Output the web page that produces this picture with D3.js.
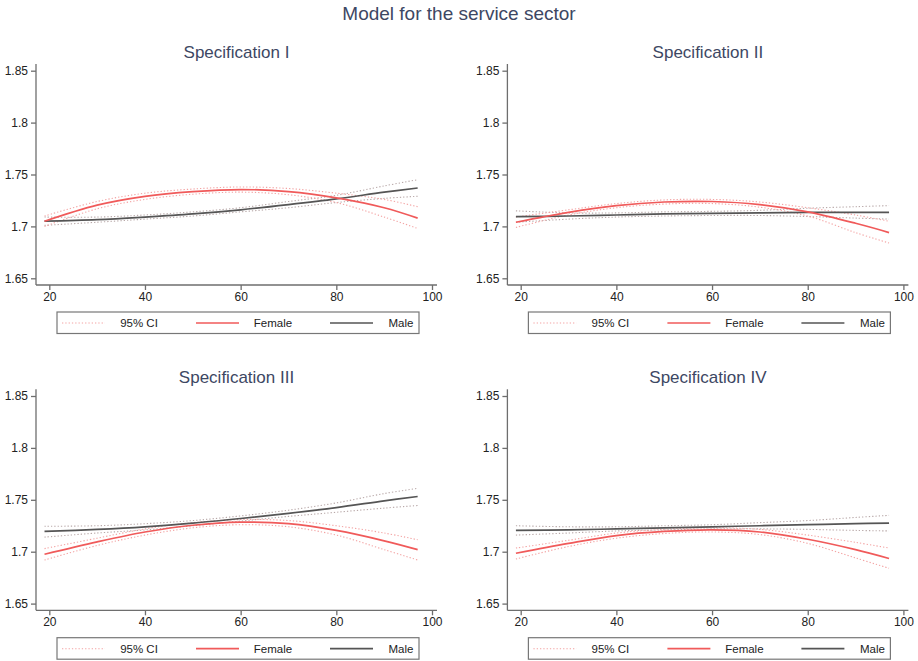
<!DOCTYPE html>
<html>
<head>
<meta charset="utf-8">
<script src="https://cdn.jsdelivr.net/npm/d3@7"></script>
<style>
  body { margin: 0; background: #fff; }
  svg { display: block; font-family: "Liberation Sans", Arial, sans-serif; }
</style>
</head>
<body>
<svg id="chart" width="918" height="661"></svg>
<script>
// Predicted height by age, service sector, four model specifications
const ages = [19, 30, 40, 50, 60, 70, 80, 90, 97];
const panelTitles = ["Specification I", "Specification II", "Specification III", "Specification IV"];
const xTicks = [20, 40, 60, 80, 100];
const yTicks = [1.65, 1.7, 1.75, 1.8, 1.85];
const yTickLabels = ["1.65", "1.7", "1.75", "1.8", "1.85"];
const legendLabels = ["95% CI", "Female", "Male"];

const female = [
  [1.705, 1.7205, 1.729, 1.7335, 1.7355, 1.7335, 1.7275, 1.718, 1.708],
  [1.704, 1.7135, 1.720, 1.7235, 1.724, 1.721, 1.714, 1.703, 1.694],
  [1.6975, 1.7095, 1.719, 1.7255, 1.7285, 1.727, 1.7205, 1.7105, 1.702],
  [1.6985, 1.708, 1.7155, 1.7195, 1.721, 1.719, 1.712, 1.702, 1.6935]
];
const femaleLo = [
  [1.700, 1.717, 1.726, 1.731, 1.733, 1.7305, 1.723, 1.709, 1.698],
  [1.699, 1.711, 1.718, 1.7215, 1.722, 1.7185, 1.710, 1.694, 1.684],
  [1.692, 1.706, 1.716, 1.723, 1.726, 1.724, 1.716, 1.702, 1.692],
  [1.693, 1.705, 1.713, 1.7175, 1.719, 1.7165, 1.708, 1.694, 1.684]
];
const femaleHi = [
  [1.710, 1.724, 1.732, 1.736, 1.738, 1.7365, 1.732, 1.726, 1.719],
  [1.709, 1.716, 1.722, 1.7255, 1.726, 1.7235, 1.718, 1.711, 1.705],
  [1.703, 1.713, 1.722, 1.728, 1.731, 1.730, 1.725, 1.718, 1.7115],
  [1.7035, 1.711, 1.718, 1.7215, 1.723, 1.7215, 1.716, 1.709, 1.7035]
];
const male = [
  [1.705, 1.7065, 1.709, 1.712, 1.716, 1.721, 1.7265, 1.733, 1.737],
  [1.7095, 1.710, 1.711, 1.712, 1.7125, 1.713, 1.7135, 1.7135, 1.7135],
  [1.7195, 1.7215, 1.724, 1.7275, 1.732, 1.737, 1.7425, 1.749, 1.7532],
  [1.7205, 1.721, 1.722, 1.723, 1.724, 1.725, 1.726, 1.727, 1.7275]
];
const maleLo = [
  [1.701, 1.704, 1.707, 1.710, 1.714, 1.718, 1.723, 1.727, 1.729],
  [1.704, 1.707, 1.709, 1.710, 1.7105, 1.7105, 1.7095, 1.708, 1.707],
  [1.714, 1.718, 1.721, 1.725, 1.7295, 1.734, 1.738, 1.742, 1.7445],
  [1.716, 1.718, 1.720, 1.721, 1.722, 1.722, 1.7215, 1.7205, 1.720]
];
const maleHi = [
  [1.709, 1.709, 1.711, 1.714, 1.718, 1.724, 1.730, 1.739, 1.745],
  [1.715, 1.713, 1.713, 1.714, 1.7145, 1.7155, 1.7175, 1.719, 1.720],
  [1.7245, 1.725, 1.727, 1.730, 1.7345, 1.740, 1.747, 1.756, 1.761],
  [1.725, 1.724, 1.724, 1.725, 1.726, 1.728, 1.730, 1.733, 1.735]
];

const colors = {
  female: "#f05a5a",
  male: "#555555",
  femaleCI: "#f3a3a3",
  maleCI: "#b9a9a9",
  axis: "#6e6e6e",
  text: "#222",
  title: "#3d4763"
};

const svg = d3.select("#chart");

svg.append("text")
  .attr("x", 459).attr("y", 20)
  .attr("text-anchor", "middle")
  .attr("font-size", 19)
  .attr("fill", colors.title)
  .text("Model for the service sector");

const offsetsX = [0, 471.4];
const offsetsY = [0, 325.3];

panelTitles.forEach((title, i) => {
  const ox = offsetsX[i % 2];
  const oy = offsetsY[Math.floor(i / 2)];
  const g = svg.append("g").attr("transform", `translate(${ox},${oy})`);

  const left = 36, right = 437, top = 64, bottom = 285;
  const x = d3.scaleLinear().domain([20, 100]).range([49.3, 432]);
  const y = d3.scaleLinear().domain([1.65, 1.85]).range([278.3, 70.7]);

  g.append("text")
    .attr("x", (left + right) / 2).attr("y", 58)
    .attr("text-anchor", "middle")
    .attr("font-size", 17)
    .attr("fill", colors.title)
    .text(title);

  // y axis
  const yAxis = g.append("g").attr("transform", `translate(${left},0)`)
    .call(d3.axisLeft(y).tickValues(yTicks).tickSize(5).tickPadding(3)
      .tickFormat((d, k) => yTickLabels[k]));
  yAxis.select(".domain").attr("d", `M0,${top}V${bottom}`);
  // x axis
  const xAxis = g.append("g").attr("transform", `translate(0,${bottom})`)
    .call(d3.axisBottom(x).tickValues(xTicks).tickSize(5).tickPadding(2));
  xAxis.select(".domain").attr("d", `M${left},0H${right}`);
  [yAxis, xAxis].forEach(a => {
    a.selectAll(".domain, line").attr("stroke", colors.axis).attr("stroke-width", 1.3);
    a.selectAll("text").attr("font-size", 12).attr("fill", colors.text)
      .attr("font-family", "Liberation Sans, Arial, sans-serif");
  });

  const line = d3.line()
    .x((d, k) => x(ages[k]))
    .y(d => y(d))
    .curve(d3.curveCatmullRom.alpha(0.5));

  const ci = [
    [maleLo[i], colors.maleCI], [maleHi[i], colors.maleCI],
    [femaleLo[i], colors.femaleCI], [femaleHi[i], colors.femaleCI]
  ];
  ci.forEach(([vals, c]) => {
    g.append("path").attr("d", line(vals))
      .attr("fill", "none").attr("stroke", c)
      .attr("stroke-width", 1.1).attr("stroke-dasharray", "1.3,2");
  });
  g.append("path").attr("d", line(male[i]))
    .attr("fill", "none").attr("stroke", colors.male).attr("stroke-width", 1.7);
  g.append("path").attr("d", line(female[i]))
    .attr("fill", "none").attr("stroke", colors.female).attr("stroke-width", 1.7);

  // legend
  const lg = g.append("g").attr("transform", `translate(57,${oy ? 312.4 : 312})`);
  lg.append("rect").attr("x", 0).attr("y", 0).attr("width", 362).attr("height", 21.5)
    .attr("fill", "#fff").attr("stroke", "#777").attr("stroke-width", 1.2);
  const items = [
    { x1: 5, x2: 48, tx: 82, color: colors.femaleCI, dash: "1.3,2", w: 1.1 },
    { x1: 139, x2: 182, tx: 216, color: colors.female, dash: null, w: 1.7 },
    { x1: 273, x2: 316, tx: 344, color: colors.male, dash: null, w: 1.7 }
  ];
  items.forEach((it, k) => {
    lg.append("line").attr("x1", it.x1).attr("x2", it.x2).attr("y1", 11).attr("y2", 11)
      .attr("stroke", it.color).attr("stroke-width", it.w)
      .attr("stroke-dasharray", it.dash);
    lg.append("text").attr("x", it.tx).attr("y", 15)
      .attr("text-anchor", "middle").attr("font-size", 11.5).attr("fill", colors.text)
      .text(legendLabels[k]);
  });
});
</script>
</body>
</html>
